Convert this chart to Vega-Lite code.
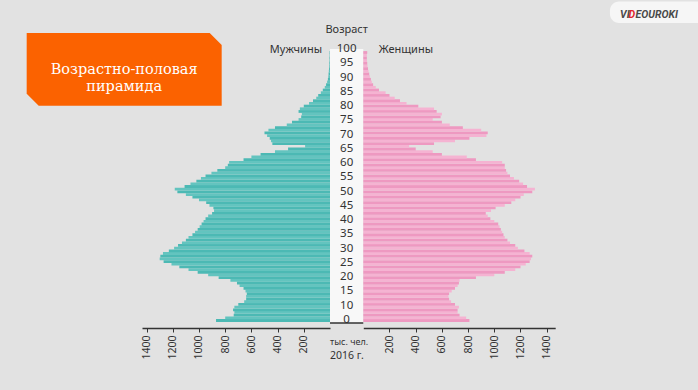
{
  "$schema": "https://vega.github.io/schema/vega-lite/v6.json",
  "width": 698,
  "height": 328,
  "autosize": {"type": "none"},
  "padding": {"left": 0, "top": 0, "right": 0, "bottom": 62},
  "background": "#e2e2e2",
  "config": {"view": {"stroke": null}, "axis": {"grid": false}},
  "datasets": {
    "pop": [
      {"age":0,"m":870,"f":810},{"age":1,"m":800,"f":785},{"age":2,"m":735,"f":735},{"age":3,"m":730,"f":720},{"age":4,"m":740,"f":720},
      {"age":5,"m":730,"f":730},{"age":6,"m":700,"f":700},{"age":7,"m":655,"f":670},{"age":8,"m":640,"f":655},{"age":9,"m":640,"f":650},
      {"age":10,"m":635,"f":655},{"age":11,"m":645,"f":675},{"age":12,"m":660,"f":700},{"age":13,"m":690,"f":720},{"age":14,"m":710,"f":730},
      {"age":15,"m":760,"f":735},{"age":16,"m":850,"f":860},{"age":17,"m":930,"f":1000},{"age":18,"m":1010,"f":1080},{"age":19,"m":1080,"f":1160},
      {"age":20,"m":1150,"f":1200},{"age":21,"m":1210,"f":1240},{"age":22,"m":1270,"f":1270},{"age":23,"m":1300,"f":1280},{"age":24,"m":1295,"f":1290},
      {"age":25,"m":1275,"f":1270},{"age":26,"m":1230,"f":1230},{"age":27,"m":1190,"f":1180},{"age":28,"m":1160,"f":1160},{"age":29,"m":1130,"f":1120},
      {"age":30,"m":1100,"f":1100},{"age":31,"m":1080,"f":1080},{"age":32,"m":1050,"f":1070},{"age":33,"m":1030,"f":1060},{"age":34,"m":1010,"f":1050},
      {"age":35,"m":995,"f":1040},{"age":36,"m":980,"f":1030},{"age":37,"m":965,"f":1000},{"age":38,"m":950,"f":970},{"age":39,"m":930,"f":950},
      {"age":40,"m":900,"f":935},{"age":41,"m":885,"f":975},{"age":42,"m":890,"f":1010},{"age":43,"m":920,"f":1080},{"age":44,"m":945,"f":1130},
      {"age":45,"m":1000,"f":1160},{"age":46,"m":1050,"f":1200},{"age":47,"m":1100,"f":1225},{"age":48,"m":1165,"f":1290},{"age":49,"m":1185,"f":1310},
      {"age":50,"m":1110,"f":1250},{"age":51,"m":1065,"f":1220},{"age":52,"m":1020,"f":1190},{"age":53,"m":985,"f":1150},{"age":54,"m":950,"f":1120},
      {"age":55,"m":905,"f":1100},{"age":56,"m":860,"f":1090},{"age":57,"m":800,"f":1080},{"age":58,"m":780,"f":1080},{"age":59,"m":770,"f":1060},
      {"age":60,"m":660,"f":860},{"age":61,"m":600,"f":790},{"age":62,"m":530,"f":600},{"age":63,"m":420,"f":530},{"age":64,"m":320,"f":400},
      {"age":65,"m":190,"f":350},{"age":66,"m":440,"f":540},{"age":67,"m":450,"f":700},{"age":68,"m":460,"f":810},{"age":69,"m":480,"f":940},
      {"age":70,"m":500,"f":950},{"age":71,"m":470,"f":900},{"age":72,"m":420,"f":760},{"age":73,"m":330,"f":660},{"age":74,"m":290,"f":600},
      {"age":75,"m":240,"f":530},{"age":76,"m":220,"f":590},{"age":77,"m":215,"f":600},{"age":78,"m":240,"f":560},{"age":79,"m":230,"f":540},
      {"age":80,"m":200,"f":420},{"age":81,"m":160,"f":330},{"age":82,"m":130,"f":280},{"age":83,"m":105,"f":240},{"age":84,"m":90,"f":200},
      {"age":85,"m":70,"f":170},{"age":86,"m":55,"f":120},{"age":87,"m":40,"f":95},{"age":88,"m":30,"f":75},{"age":89,"m":22,"f":65},
      {"age":90,"m":16,"f":58},{"age":91,"m":13,"f":50},{"age":92,"m":11,"f":45},{"age":93,"m":9,"f":40},{"age":94,"m":7,"f":36},
      {"age":95,"m":6,"f":32},{"age":96,"m":5,"f":30},{"age":97,"m":4,"f":28},{"age":98,"m":4,"f":27},{"age":99,"m":3,"f":27},
      {"age":100,"m":3,"f":30}
    ],
    "ages": [
      {"label":"100"},{"label":"95"},{"label":"90"},{"label":"85"},{"label":"80"},{"label":"75"},{"label":"70"},
      {"label":"65"},{"label":"60"},{"label":"55"},{"label":"50"},{"label":"45"},{"label":"40"},{"label":"35"},
      {"label":"30"},{"label":"25"},{"label":"20"},{"label":"15"},{"label":"10"},{"label":"0"}
    ]
  },
  "resolve": {"scale": {"x": "independent", "y": "independent"}},
  "layer": [
    {
      "layer": [
        {
          "data": {"values": [{}]},
          "mark": {"type": "rect", "color": "#f8f8f8"},
          "encoding": {
            "x": {"datum": 0, "type": "quantitative", "title": null, "scale": {"domain": [0, 1435], "range": [330, 142], "nice": false}},
            "x2": {"datum": -254},
            "y": {"datum": 101.3, "type": "quantitative", "title": null, "axis": null, "scale": {"domain": [0, 100], "range": [325.5, 47.5], "nice": false}},
            "y2": {"datum": -0.9}
          }
        },
        {
          "data": {"name": "pop"},
          "mark": {"type": "bar", "orient": "horizontal", "size": 2.8},
          "encoding": {
            "y": {"field": "age", "type": "quantitative", "title": null, "axis": null, "scale": {"domain": [0, 100], "range": [325.5, 47.5], "nice": false}},
            "x": {"field": "m", "type": "quantitative", "title": null,
              "scale": {"domain": [0, 1435], "range": [330, 142], "nice": false},
              "axis": {"orient": "bottom", "values": [200, 400, 600, 800, 1000, 1200, 1400], "format": "d", "labelAngle": 270,
                "labelFont": "Noto Sans", "labelFontSize": 10.5, "labelColor": "#333", "tickColor": "#333", "tickSize": 4,
                "domainColor": "#333", "domainWidth": 1.5, "labelPadding": 3, "title": null}},
            "color": {"condition": {"test": "datum.age % 2 === 0", "value": "#4cb9b4"}, "value": "#63c4bf"}
          }
        },
        {
          "data": {"values": [{}]},
          "mark": {"type": "rule", "color": "#333", "strokeWidth": 1.5},
          "encoding": {
            "x": {"datum": 0, "type": "quantitative", "title": null, "scale": {"domain": [0, 1435], "range": [330, 142], "nice": false}},
            "x2": {"datum": -254},
            "y": {"datum": -0.9, "type": "quantitative", "title": null, "axis": null, "scale": {"domain": [0, 100], "range": [325.5, 47.5], "nice": false}}
          }
        },
        {
          "data": {"values": [{}]},
          "mark": {"type": "text", "text": "Мужчины", "font": "Noto Sans", "fontSize": 11, "color": "#333", "align": "center", "baseline": "middle"},
          "encoding": {
            "x": {"datum": 260, "type": "quantitative", "title": null, "scale": {"domain": [0, 1435], "range": [330, 142], "nice": false}},
            "y": {"datum": 100.9, "type": "quantitative", "title": null, "axis": null, "scale": {"domain": [0, 100], "range": [325.5, 47.5], "nice": false}}
          }
        },
        {
          "data": {"values": [{}]},
          "mark": {"type": "point", "filled": true, "opacity": 1, "color": "#fb6200", "size": 38025,
            "shape": "M-1,-0.374L0.877,-0.374L1,-0.251L1,0.374L-0.877,0.374L-1,0.251Z"},
          "encoding": {
            "x": {"datum": 1571, "type": "quantitative", "title": null, "scale": {"domain": [0, 1435], "range": [330, 142], "nice": false}},
            "y": {"datum": 93.7, "type": "quantitative", "title": null, "axis": null, "scale": {"domain": [0, 100], "range": [325.5, 47.5], "nice": false}}
          }
        },
        {
          "data": {"values": [{}]},
          "mark": {"type": "text", "text": ["Возрастно-половая", "пирамида"], "lineHeight": 17, "font": "DejaVu Serif", "fontSize": 14.5, "color": "#ffffff", "align": "center", "baseline": "middle"},
          "encoding": {
            "x": {"datum": 1571, "type": "quantitative", "title": null, "scale": {"domain": [0, 1435], "range": [330, 142], "nice": false}},
            "y": {"datum": 93.5, "type": "quantitative", "title": null, "axis": null, "scale": {"domain": [0, 100], "range": [325.5, 47.5], "nice": false}}
          }
        }
      ]
    },
    {
      "layer": [
        {
          "data": {"name": "pop"},
          "mark": {"type": "bar", "orient": "horizontal", "size": 2.8},
          "encoding": {
            "y": {"field": "age", "type": "quantitative", "title": null, "axis": null, "scale": {"domain": [0, 100], "range": [325.5, 47.5], "nice": false}},
            "x": {"field": "f", "type": "quantitative", "title": null,
              "scale": {"domain": [0, 1465], "range": [363.3, 555.2], "nice": false},
              "axis": {"orient": "bottom", "values": [200, 400, 600, 800, 1000, 1200, 1400], "format": "d", "labelAngle": 270,
                "labelFont": "Noto Sans", "labelFontSize": 10.5, "labelColor": "#333", "tickColor": "#333", "tickSize": 4,
                "domainColor": "#333", "domainWidth": 1.5, "labelPadding": 3, "title": null}},
            "color": {"condition": {"test": "datum.age % 2 === 0", "value": "#ee99c1"}, "value": "#f5b3d2"}
          }
        },
        {
          "data": {"values": [{}]},
          "mark": {"type": "text", "text": "Женщины", "font": "Noto Sans", "fontSize": 11, "color": "#333", "align": "center", "baseline": "middle"},
          "encoding": {
            "x": {"datum": 325, "type": "quantitative", "title": null, "scale": {"domain": [0, 1465], "range": [363.3, 555.2], "nice": false}},
            "y": {"datum": 101.1, "type": "quantitative", "title": null, "axis": null, "scale": {"domain": [0, 100], "range": [325.5, 47.5], "nice": false}}
          }
        },
        {
          "data": {"values": [{}]},
          "mark": {"type": "rect", "color": "#f6f6f6", "cornerRadius": 9},
          "encoding": {
            "x": {"datum": 1883, "type": "quantitative", "title": null, "scale": {"domain": [0, 1465], "range": [363.3, 555.2], "nice": false}},
            "x2": {"datum": 2700},
            "y": {"datum": 119, "type": "quantitative", "title": null, "axis": null, "scale": {"domain": [0, 100], "range": [325.5, 47.5], "nice": false}},
            "y2": {"datum": 111}
          }
        },
        {
          "data": {"values": [{}]},
          "mark": {"type": "text", "text": "VI", "font": "Roboto", "fontSize": 10.5, "fontWeight": "bold", "fontStyle": "italic", "color": "#4a4a4a", "align": "left", "baseline": "middle"},
          "encoding": {
            "x": {"datum": 1960, "type": "quantitative", "title": null, "scale": {"domain": [0, 1465], "range": [363.3, 555.2], "nice": false}},
            "y": {"datum": 113.85, "type": "quantitative", "title": null, "axis": null, "scale": {"domain": [0, 100], "range": [325.5, 47.5], "nice": false}}
          }
        },
        {
          "data": {"values": [{}]},
          "mark": {"type": "text", "text": "D", "font": "Roboto", "fontSize": 10.5, "fontWeight": "bold", "fontStyle": "italic", "color": "#e3262b", "align": "left", "baseline": "middle"},
          "encoding": {
            "x": {"datum": 2025, "type": "quantitative", "title": null, "scale": {"domain": [0, 1465], "range": [363.3, 555.2], "nice": false}},
            "y": {"datum": 113.85, "type": "quantitative", "title": null, "axis": null, "scale": {"domain": [0, 100], "range": [325.5, 47.5], "nice": false}}
          }
        },
        {
          "data": {"values": [{}]},
          "mark": {"type": "text", "text": "EOUROKI", "font": "Roboto", "fontSize": 10.5, "fontWeight": "bold", "fontStyle": "italic", "color": "#4a4a4a", "align": "left", "baseline": "middle"},
          "encoding": {
            "x": {"datum": 2078, "type": "quantitative", "title": null, "scale": {"domain": [0, 1465], "range": [363.3, 555.2], "nice": false}},
            "y": {"datum": 113.85, "type": "quantitative", "title": null, "axis": null, "scale": {"domain": [0, 100], "range": [325.5, 47.5], "nice": false}}
          }
        }
      ]
    },
    {
      "data": {"name": "ages"},
      "layer": [
        {
          "mark": {"type": "text", "font": "Noto Sans", "fontSize": 11.5, "color": "#333", "align": "center", "baseline": "middle"},
          "encoding": {
            "text": {"field": "label"},
            "x": {"datum": 0.5, "type": "quantitative", "title": null, "axis": null, "scale": {"domain": [0, 1], "range": [330, 363.3], "nice": false}},
            "y": {"field": "label", "type": "nominal", "title": null, "axis": null,
              "scale": {"type": "point", "domain": ["100","95","90","85","80","75","70","65","60","55","50","45","40","35","30","25","20","15","10","0"], "range": [49, 320], "padding": 0}}
          }
        },
        {
          "data": {"values": [{}]},
          "mark": {"type": "text", "text": "Возраст", "font": "Noto Sans", "fontSize": 11, "color": "#333", "align": "center", "baseline": "middle", "dy": -19},
          "encoding": {
            "x": {"datum": 0.5, "type": "quantitative", "title": null, "axis": null, "scale": {"domain": [0, 1], "range": [330, 363.3], "nice": false}},
            "y": {"datum": "100", "type": "nominal", "title": null, "axis": null,
              "scale": {"type": "point", "domain": ["100","95","90","85","80","75","70","65","60","55","50","45","40","35","30","25","20","15","10","0"], "range": [49, 320], "padding": 0}}
          }
        },
        {
          "data": {"values": [{}]},
          "mark": {"type": "text", "text": "тыс. чел.", "font": "Noto Sans", "fontSize": 9, "color": "#333", "align": "left", "baseline": "middle", "dy": 21.5},
          "encoding": {
            "x": {"datum": 0, "type": "quantitative", "title": null, "axis": null, "scale": {"domain": [0, 1], "range": [330, 363.3], "nice": false}},
            "y": {"datum": "0", "type": "nominal", "title": null, "axis": null,
              "scale": {"type": "point", "domain": ["100","95","90","85","80","75","70","65","60","55","50","45","40","35","30","25","20","15","10","0"], "range": [49, 320], "padding": 0}}
          }
        },
        {
          "data": {"values": [{}]},
          "mark": {"type": "text", "text": "2016 г.", "font": "Noto Sans", "fontSize": 10.5, "color": "#333", "align": "left", "baseline": "middle", "dy": 35.5},
          "encoding": {
            "x": {"datum": 0, "type": "quantitative", "title": null, "axis": null, "scale": {"domain": [0, 1], "range": [330, 363.3], "nice": false}},
            "y": {"datum": "0", "type": "nominal", "title": null, "axis": null,
              "scale": {"type": "point", "domain": ["100","95","90","85","80","75","70","65","60","55","50","45","40","35","30","25","20","15","10","0"], "range": [49, 320], "padding": 0}}
          }
        }
      ]
    }
  ]
}
